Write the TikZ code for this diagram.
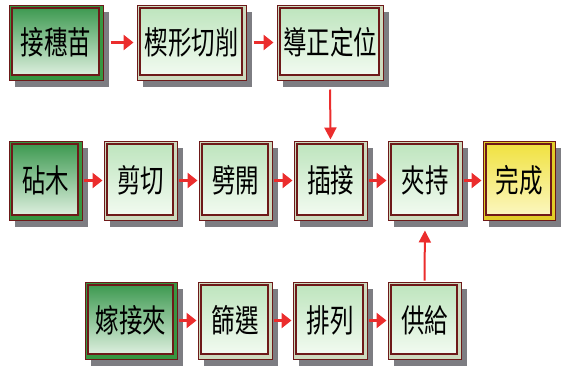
\documentclass[tikz,border=0pt]{standalone}
\usepackage{fontspec}
\usepackage{graphicx}
\newfontfamily\cjk{Noto Sans CJK TC}
\newcommand\tallcjk[1]{\scalebox{1}[1.36]{#1}}
\usetikzlibrary{shadows,arrows.meta}
\definecolor{maroon}{RGB}{110,25,25}
\definecolor{bandlight}{RGB}{205,218,190}
\definecolor{bandgreen}{RGB}{55,150,65}
\definecolor{bandyellow}{RGB}{225,205,40}
\definecolor{lgtop}{RGB}{188,228,188}
\definecolor{lgbot}{RGB}{246,252,244}
\definecolor{dgtop}{RGB}{55,150,75}
\definecolor{dgmid}{RGB}{170,218,175}
\definecolor{dgbot}{RGB}{232,245,232}
\definecolor{ytop}{RGB}{240,225,60}
\definecolor{ybot}{RGB}{252,248,200}
\definecolor{arrowred}{RGB}{235,45,45}
\definecolor{shadowgray}{RGB}{125,125,130}
\tikzset{
  pbox/.style={draw=maroon, line width=1pt, inner sep=0pt, font=\cjk\fontsize{23.5}{23.5}\selectfont,
    drop shadow={shadow xshift=6pt, shadow yshift=-7pt, fill=shadowgray, opacity=1}},
  innerframe/.style={draw=maroon, line width=1.1pt},
  lightbox/.style={pbox, fill=bandlight,
    path picture={
      \shade[top color=lgtop, bottom color=lgbot]
        ([shift={(3pt,-3pt)}]path picture bounding box.north west) rectangle ([shift={(-4pt,5pt)}]path picture bounding box.south east);
      \draw[innerframe] ([shift={(3pt,-3pt)}]path picture bounding box.north west) rectangle ([shift={(-4pt,5pt)}]path picture bounding box.south east);
      \draw[maroon, line width=2pt] ([shift={(3pt,5pt)}]path picture bounding box.south west) -- ([shift={(-4pt,5pt)}]path picture bounding box.south east);
    }},
  greenbox/.style={pbox, fill=bandgreen,
    path picture={
      \shade[top color=dgtop, middle color=dgmid, bottom color=dgbot]
        ([shift={(3pt,-3pt)}]path picture bounding box.north west) rectangle ([shift={(-4pt,5pt)}]path picture bounding box.south east);
      \draw[innerframe] ([shift={(3pt,-3pt)}]path picture bounding box.north west) rectangle ([shift={(-4pt,5pt)}]path picture bounding box.south east);
      \draw[maroon, line width=2pt] ([shift={(3pt,5pt)}]path picture bounding box.south west) -- ([shift={(-4pt,5pt)}]path picture bounding box.south east);
    }},
  yellowbox/.style={pbox, fill=bandyellow,
    path picture={
      \shade[top color=ytop, bottom color=ybot]
        ([shift={(3pt,-3pt)}]path picture bounding box.north west) rectangle ([shift={(-4pt,5pt)}]path picture bounding box.south east);
      \draw[innerframe] ([shift={(3pt,-3pt)}]path picture bounding box.north west) rectangle ([shift={(-4pt,5pt)}]path picture bounding box.south east);
      \draw[maroon, line width=2pt] ([shift={(3pt,5pt)}]path picture bounding box.south west) -- ([shift={(-4pt,5pt)}]path picture bounding box.south east);
    }},
  harrow/.style={draw=arrowred, line width=3.6pt, -{Triangle[length=10pt,width=15pt]}},
  varrow/.style={draw=arrowred, line width=2pt, -{Triangle[length=12pt,width=12pt]}}
}
\begin{document}
\begin{tikzpicture}[x=1pt,y=-1pt]
\useasboundingbox (0,0) rectangle (561,367);
% row 1
\node[greenbox, minimum width=94pt, minimum height=75pt] (a1) at (56,42.5) {\tallcjk{接穗苗}};
\node[lightbox, minimum width=109pt, minimum height=75pt] (a2) at (191.5,42.5) {\tallcjk{楔形切削}};
\node[lightbox, minimum width=106pt, minimum height=75pt] (a3) at (330,42.5) {\tallcjk{導正定位}};
% row 2
\node[greenbox, minimum width=73pt, minimum height=79pt] (b1) at (45.5,180.5) {\tallcjk{砧木}};
\node[lightbox, minimum width=73pt, minimum height=79pt] (b2) at (140.5,180.5) {\tallcjk{剪切}};
\node[lightbox, minimum width=73pt, minimum height=79pt] (b3) at (235.5,180.5) {\tallcjk{劈開}};
\node[lightbox, minimum width=73pt, minimum height=79pt] (b4) at (330.5,180.5) {\tallcjk{插接}};
\node[lightbox, minimum width=74pt, minimum height=79pt] (b5) at (425,180.5) {\tallcjk{夾持}};
\node[yellowbox, minimum width=72pt, minimum height=79pt] (b6) at (519,180.5) {\tallcjk{完成}};
% row 3
\node[greenbox, minimum width=92pt, minimum height=77pt] (c1) at (131,320.5) {\tallcjk{嫁接夾}};
\node[lightbox, minimum width=74pt, minimum height=77pt] (c2) at (235,320.5) {\tallcjk{篩選}};
\node[lightbox, minimum width=74pt, minimum height=77pt] (c3) at (330,320.5) {\tallcjk{排列}};
\node[lightbox, minimum width=73pt, minimum height=77pt] (c4) at (424.5,320.5) {\tallcjk{供給}};
% arrows
\draw[harrow, shorten <=7pt, shorten >=3pt] (a1) -- (a2);
\draw[harrow, shorten <=7pt, shorten >=3pt] (a2) -- (a3);
\draw[varrow, shorten <=9pt, shorten >=1pt] (a3.south) -- (b4.north);
\draw[harrow, shorten <=1pt, shorten >=1pt] (b1) -- (b2);
\draw[harrow, shorten <=1pt, shorten >=1pt] (b2) -- (b3);
\draw[harrow, shorten <=1pt, shorten >=1pt] (b3) -- (b4);
\draw[harrow, shorten <=1pt, shorten >=1pt] (b4) -- (b5);
\draw[harrow, shorten <=1pt, shorten >=1pt] (b5) -- (b6);
\draw[harrow, shorten <=1pt, shorten >=1pt] (c1) -- (c2);
\draw[harrow, shorten <=1pt, shorten >=1pt] (c2) -- (c3);
\draw[harrow, shorten <=1pt, shorten >=1pt] (c3) -- (c4);
\draw[varrow, shorten <=1pt, shorten >=10pt] (c4.north) -- (b5.south);
\end{tikzpicture}
\end{document}
